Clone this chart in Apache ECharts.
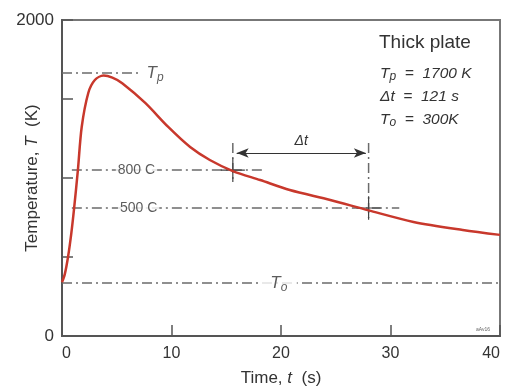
<!DOCTYPE html>
<html>
<head>
<meta charset="utf-8">
<script src="https://cdn.jsdelivr.net/npm/echarts@6/dist/echarts.min.js"></script>
<style>
  html, body { margin: 0; background: #fff; }
  #chart { width: 505px; height: 387px; }
</style>
</head>
<body>
<div id="chart"></div>
<script>
// thick plate thermal cycle
const timeS = [0, 0.25, 0.55, 0.85, 1.1, 1.45, 1.8, 2.4, 3.0, 3.8, 4.6, 5.5, 7.6, 9.7, 11.7, 13.5, 15.6, 18.1, 20.8, 24.5, 28.0, 32.1, 36.6, 40]
const tempK = [340, 390, 500, 650, 804, 1050, 1323, 1538, 1620, 1648, 1635, 1600, 1475, 1323, 1196, 1114, 1044, 987, 924, 861, 795, 722, 671, 640]

const xTicks = [0, 10, 20, 30, 40]
const yLabelled = [0, 2000]

const tpLevel = 1665   // peak temperature line
const level800 = 1050  // 800 C
const level500 = 810   // 500 C
const t0Level = 335    // initial temperature
const t800 = 15.6      // curve crosses 800 C
const t500 = 28.0      // curve crosses 500 C
const arrowLevel = 1158

const infoTitle = 'Thick plate'

const FONT = 'Liberation Sans, Arial, sans-serif'
const DASH = [10, 4, 2, 4]

const refLine = (pts, extra) => Object.assign({
  type: 'line',
  data: pts,
  symbol: 'none',
  silent: true,
  z: 1,
  lineStyle: {color: '#6b6b6b', width: 1.5, type: DASH}
}, extra || {})

const solid = (pts) => refLine(pts, {lineStyle: {color: '#444', width: 1.2, type: 'solid'}})

const textMark = (x, y, rich, text, extra) => ({
  type: 'scatter',
  silent: true,
  symbolSize: 0,
  z: 5,
  data: [[x, y]],
  label: Object.assign({
    show: true,
    position: 'inside',
    formatter: text,
    color: '#333',
    fontFamily: FONT,
    fontSize: 13,
    rich: rich
  }, extra || {})
})

const italicRich = {
  i: {fontStyle: 'italic', fontSize: 17, color: '#333', fontFamily: FONT},
  s: {fontStyle: 'italic', fontSize: 12, color: '#333', fontFamily: FONT, padding: [9, 0, 0, 0]}
}

const myChart = echarts.init(document.getElementById('chart'))

const option = {
  animation: false,
  backgroundColor: '#fff',
  grid: {
    left: 62, right: 5, top: 20, bottom: 51,
    containLabel: false,
    outerBoundsMode: 'none',
    show: true, borderColor: '#777', borderWidth: 2, backgroundColor: 'transparent'
  },
  xAxis: {
    type: 'value',
    min: xTicks[0],
    max: xTicks[xTicks.length - 1],
    interval: 10,
    name: '{a|Time, }{i|t}{a|  (s)}',
    nameLocation: 'middle',
    nameGap: 34,
    nameMoveOverlap: false,
    nameTextStyle: {
      rich: {
        a: {fontSize: 17, color: '#333', fontFamily: FONT},
        i: {fontSize: 17, color: '#333', fontFamily: FONT, fontStyle: 'italic'}
      }
    },
    axisLine: {lineStyle: {color: '#555', width: 2}},
    axisTick: {inside: true, length: 11, lineStyle: {color: '#555', width: 1.5}},
    axisLabel: {
      color: '#333', fontSize: 16, fontFamily: FONT, margin: 10,
      alignMinLabel: 'left', alignMaxLabel: 'right'
    },
    splitLine: {show: false}
  },
  yAxis: {
    type: 'value',
    min: 0,
    max: 2000,
    interval: 500,
    name: '{a|Temperature, }{i|T}{a|  (K)}',
    nameLocation: 'middle',
    nameRotate: 90,
    nameGap: 21,
    nameMoveOverlap: false,
    nameTextStyle: {
      rich: {
        a: {fontSize: 17, color: '#333', fontFamily: FONT},
        i: {fontSize: 17, color: '#333', fontFamily: FONT, fontStyle: 'italic'}
      }
    },
    axisLine: {lineStyle: {color: '#555', width: 2}},
    axisTick: {inside: true, length: 11, lineStyle: {color: '#555', width: 1.5}},
    axisLabel: {
      color: '#333', fontSize: 17, fontFamily: FONT, margin: 8,
      formatter: (v) => yLabelled.includes(v) ? String(v) : ''
    },
    splitLine: {show: false}
  },
  graphic: [
    {type: 'text', left: 379, top: 33, style: {text: infoTitle, font: '19px ' + FONT, fill: '#333'}},
    {
      type: 'text', left: 380, top: 64,
      style: {
        text: '{i|T}{s|p}{i|  =  1700 K}\n{i|Δt  =  121 s}\n{i|T}{s|o}{i|  =  300K}',
        rich: {
          i: {fontStyle: 'italic', fontSize: 15.5, fill: '#333', fontFamily: FONT, lineHeight: 23},
          s: {fontStyle: 'italic', fontSize: 12, fill: '#333', fontFamily: FONT, lineHeight: 23, padding: [7, 0, 0, 0]}
        }
      }
    },
    {type: 'text', left: 476, top: 327, style: {text: 'aAv16', font: '5px ' + FONT, fill: '#666'}}
  ],
  series: [
    refLine([[0, tpLevel], [7.3, tpLevel]]),
    refLine([[0.9, level800], [18.5, level800]]),
    refLine([[0.9, level500], [30.8, level500]]),
    refLine([[0, t0Level], [40, t0Level]]),
    refLine([[t800, 1222], [t800, 968]], {
      markLine: {
        silent: true,
        symbol: ['arrow', 'arrow'],
        symbolSize: [7, 12],
        lineStyle: {type: 'solid', color: '#333', width: 1},
        label: {
          show: true, position: 'middle', formatter: 'Δt',
          fontStyle: 'italic', fontSize: 14, color: '#333', fontFamily: FONT,
          backgroundColor: '#fff', padding: [0, 6]
        },
        data: [[{coord: [t800 + 0.35, arrowLevel]}, {coord: [t500 - 0.25, arrowLevel]}]]
      }
    }),
    refLine([[t500, 1222], [t500, 747]]),
    solid([[t800 - 1.1, level800], [t800 + 1.1, level800]]),
    solid([[t800, level800 + 75], [t800, level800 - 75]]),
    solid([[t500 - 1.1, level500], [t500 + 1.1, level500]]),
    solid([[t500, level500 + 75], [t500, level500 - 75]]),
    textMark(8.5, tpLevel, italicRich, '{i|T}{s|p}'),
    textMark(6.8, level800, null, '800 C', {backgroundColor: '#fff', padding: [1, 2], fontSize: 14}),
    textMark(7.0, level500, null, '500 C', {backgroundColor: '#fff', padding: [1, 2], fontSize: 14}),
    textMark(19.8, t0Level, italicRich, '{i|T}{s|o}', {backgroundColor: '#fff', padding: [0, 10]}),
    {
      name: 'Temperature',
      type: 'line',
      data: timeS.map((t, i) => [t, tempK[i]]),
      smooth: 0.3,
      symbol: 'none',
      z: 4,
      lineStyle: {color: '#c8382c', width: 2.5}
    }
  ]
}

option && myChart.setOption(option)
</script>
</body>
</html>
